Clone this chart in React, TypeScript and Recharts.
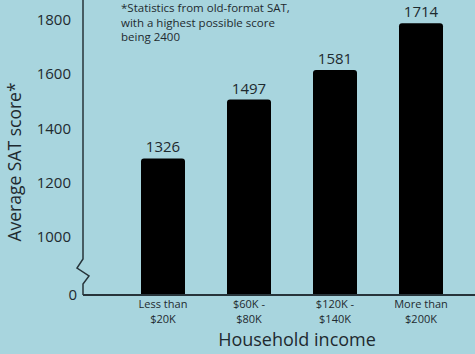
import { BarChart, Bar, XAxis, YAxis, LabelList } from 'recharts';

// Household income brackets (two-line tick labels)
const incomeBrackets = ['Less than\n$20K', '$60K -\n$80K', '$120K -\n$140K', 'More than\n$200K'];
// Score printed above each bar
const scoreLabels = [1326, 1497, 1581, 1714];
// Bar heights as drawn against the printed axis
const barHeights = [1290, 1507, 1616, 1788];
// Axis is broken below 1000; this value sits at the baseline and reads "0"
const AXIS_FLOOR = 787;
const yTicks = [AXIS_FLOOR, 1000, 1200, 1400, 1600, 1800];
const yDomain = [AXIS_FLOOR, 1874];

const note = ['*Statistics from old-format SAT,', 'with a highest possible score', 'being 2400'];

const data = incomeBrackets.map((bracket, i) => ({
  bracket,
  height: barHeights[i],
  score: scoreLabels[i],
}));

const BG = '#a8d5de';
const INK = '#1e2a2f';
const AXIS = '#27343a';
const FONT = '"Open Sans", "Noto Sans", sans-serif';

function IncomeTick(props: any) {
  const { x, payload } = props;
  const lines = String(payload.value).split('\n');
  return (
    <g>
      {lines.map((l, i) => (
        <text
          key={i}
          x={x}
          y={308 + i * 15}
          textAnchor="middle"
          fill={INK}
          fontSize={11}
          fontFamily={FONT}
        >
          {l}
        </text>
      ))}
    </g>
  );
}

function ScoreTick(props: any) {
  const { x, y, payload } = props;
  const isFloor = payload.value === AXIS_FLOOR;
  return (
    <text
      x={isFloor ? x + 6 : x}
      y={y}
      dy={5}
      textAnchor="end"
      fill={INK}
      fontSize={15}
      fontFamily={FONT}
    >
      {isFloor ? '0' : payload.value}
    </text>
  );
}

// draws the y axis line with its zigzag break, plus the axis title
function YAxisDecor(props: any) {
  const { viewBox } = props;
  const ax = viewBox.x + viewBox.width;
  const top = viewBox.y;
  const bottom = viewBox.y + viewBox.height;
  const d = `M${ax},${top} L${ax},${bottom - 36} L${ax - 6},${bottom - 27} L${ax + 6},${bottom - 19} L${ax},${bottom - 11} L${ax},${bottom}`;
  return (
    <g>
      <path d={d} fill="none" stroke={AXIS} strokeWidth={1.5} />
      <text
        x={21}
        y={162}
        transform="rotate(-90 21 162)"
        textAnchor="middle"
        fill={INK}
        fontSize={17.5}
        fontFamily={FONT}
      >
        Average SAT score*
      </text>
    </g>
  );
}

function XTitle() {
  return (
    <text x={297} y={346} textAnchor="middle" fill={INK} fontSize={18} fontFamily={FONT}>
      Household income
    </text>
  );
}

export default function App() {
  return (
    <div style={{ position: 'absolute', left: 0, top: 0, width: 475, height: 354, background: BG }}>
      <BarChart
        width={475}
        height={354}
        data={data}
        margin={{ top: 0, right: 0, bottom: 0, left: 0 }}
        barSize={44}
      >
        <XAxis
          dataKey="bracket"
          padding={{ left: 37, right: 11 }}
          height={59}
          tickLine={false}
          axisLine={{ stroke: AXIS, strokeWidth: 2 }}
          tick={<IncomeTick />}
          interval={0}
          label={<XTitle />}
        />
        <YAxis
          width={83}
          domain={yDomain}
          ticks={yTicks}
          allowDataOverflow
          axisLine={false}
          tickLine={false}
          tickSize={0}
          tickMargin={12}
          tick={<ScoreTick />}
          label={<YAxisDecor />}
        />
        <Bar dataKey="height" fill="#000000" radius={[3, 3, 0, 0]} isAnimationActive={false}>
          <LabelList
            dataKey="score"
            position="top"
            offset={6}
            fill={INK}
            fontSize={15}
            fontFamily={FONT}
          />
        </Bar>
      </BarChart>
      <div
        style={{
          position: 'absolute',
          left: 121,
          top: 1,
          fontFamily: FONT,
          fontSize: 11.5,
          lineHeight: '14.5px',
          color: INK,
        }}
      >
        {note.map((l, i) => (
          <div key={i}>{l}</div>
        ))}
      </div>
    </div>
  );
}
